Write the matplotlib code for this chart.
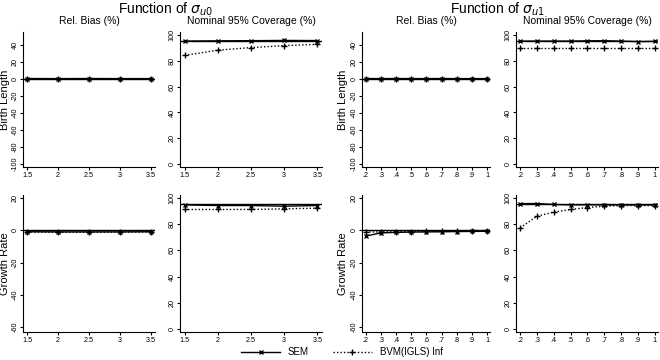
import matplotlib
matplotlib.use("Agg")
import matplotlib.pyplot as plt
from matplotlib.lines import Line2D

plt.rcParams['font.family'] = ['Liberation Sans', 'DejaVu Sans']

# x values for the two groups
sigma_u0 = [1.5, 2, 2.5, 3, 3.5]
sigma_u1 = [0.2, 0.3, 0.4, 0.5, 0.6, 0.7, 0.8, 0.9, 1.0]
u1_labels = ['.2', '.3', '.4', '.5', '.6', '.7', '.8', '.9', '1']

# Birth length, function of sigma_u0
bl_u0_bias_sem = [0.2, 0.1, 0.2, 0.1, 0.1]
bl_u0_bias_bvm = [0.0, -0.1, 0.0, -0.1, 0.0]
bl_u0_cov_sem = [95, 95.2, 95.3, 95.5, 95.4]
bl_u0_cov_bvm = [84, 88, 90, 91.5, 92.5]

# Birth length, function of sigma_u1
bl_u1_bias_sem = [0.2, 0.1, 0.2, 0.1, 0.1, 0.2, 0.1, 0.1, 0.1]
bl_u1_bias_bvm = [0.0, 0.0, -0.1, 0.0, 0.0, -0.1, 0.0, 0.0, 0.0]
bl_u1_cov_sem = [95, 95, 95, 95, 95.2, 95.3, 95, 94.6, 94.8]
bl_u1_cov_bvm = [90, 90, 90, 90, 90, 90, 90, 90, 90]

# Growth rate, function of sigma_u0
gr_u0_bias_sem = [-0.8, -0.9, -0.9, -0.9, -0.8]
gr_u0_bias_bvm = [-1.0, -1.1, -1.1, -1.0, -1.0]
gr_u0_cov_sem = [94.5, 94, 94, 93.5, 94]
gr_u0_cov_bvm = [91, 91, 91, 91.5, 92]

# Growth rate, function of sigma_u1
gr_u1_bias_sem = [-3.5, -1.5, -1.2, -1.0, -0.9, -0.8, -0.7, -0.6, -0.5]
gr_u1_bias_bvm = [-1.0, -0.9, -0.8, -0.7, -0.6, -0.6, -0.5, -0.5, -0.4]
gr_u1_cov_sem = [95.5, 95.5, 94.8, 94.5, 94.6, 94.5, 94.5, 94.5, 94.5]
gr_u1_cov_bvm = [77, 86, 89, 91, 92.5, 93.5, 94, 94, 94]

W, H = 660, 360
fig = plt.figure(figsize=(6.6, 3.6), dpi=100)


def add_ax(x0, x1, y0, y1):
    return fig.add_axes([x0 / W, 1 - y1 / H, (x1 - x0) / W, (y1 - y0) / H])


def panel(ax, x, sem, bvm, ref, ylim, yticks, xlim, xticks, xlabels):
    ax.axhline(ref, color='black', lw=1.0, zorder=1)
    ax.plot(x, sem, color='black', lw=1.0, marker='x', ms=3, mew=1.0, zorder=3)
    ax.plot(x, bvm, color='black', lw=1.0, ls=(0, (1, 1.5)), marker='+',
            ms=4, mew=1.0, zorder=3)
    ax.set_ylim(*ylim)
    ax.set_xlim(*xlim)
    ax.set_yticks(yticks)
    ax.set_yticklabels([str(t) for t in yticks], rotation=90, va='center')
    ax.set_xticks(xticks)
    ax.set_xticklabels(xlabels)
    for s in ['top', 'right']:
        ax.spines[s].set_visible(False)
    for s in ['left', 'bottom']:
        ax.spines[s].set_linewidth(0.8)
    ax.tick_params(labelsize=5.2, length=2.5, width=0.8, pad=0.8)


def row_label(ax, text, x_px, x0, x1):
    # x_px is the right edge of the rotated label
    ax.set_ylabel(text, fontsize=8)
    ax.yaxis.set_label_coords((x_px - x0) / (x1 - x0), 0.5)


u0_xlim = (1.43, 3.57)
u0_labels = ['1.5', '2', '2.5', '3', '3.5']
u1_xlim = (0.175, 1.02)

top = (32, 167)
bot = (195, 332)
cols = [(23, 155), (180, 322), (362, 490), (516, 658)]

bias_top = ((-104, 55), [40, 20, 0, -20, -40, -60, -80, -100])
bias_bot = ((-63, 22), [20, 0, -20, -40, -60])
cov = ((-2, 102), [0, 20, 40, 60, 80, 100])

# top row: birth length
ax = add_ax(*cols[0], *top)
panel(ax, sigma_u0, bl_u0_bias_sem, bl_u0_bias_bvm, 0, *bias_top, u0_xlim, sigma_u0, u0_labels)
ax.set_title('Rel. Bias (%)', fontsize=7.5, pad=6)
row_label(ax, 'Birth Length', 10.5, *cols[0])
ax = add_ax(*cols[1], *top)
panel(ax, sigma_u0, bl_u0_cov_sem, bl_u0_cov_bvm, 95, *cov, u0_xlim, sigma_u0, u0_labels)
ax.set_title('Nominal 95% Coverage (%)', fontsize=7.5, pad=6)
ax = add_ax(*cols[2], *top)
panel(ax, sigma_u1, bl_u1_bias_sem, bl_u1_bias_bvm, 0, *bias_top, u1_xlim, sigma_u1, u1_labels)
ax.set_title('Rel. Bias (%)', fontsize=7.5, pad=6)
row_label(ax, 'Birth Length', 348, *cols[2])
ax = add_ax(*cols[3], *top)
panel(ax, sigma_u1, bl_u1_cov_sem, bl_u1_cov_bvm, 95, *cov, u1_xlim, sigma_u1, u1_labels)
ax.set_title('Nominal 95% Coverage (%)', fontsize=7.5, pad=6)

# bottom row: growth rate
ax = add_ax(*cols[0], *bot)
panel(ax, sigma_u0, gr_u0_bias_sem, gr_u0_bias_bvm, 0, *bias_bot, u0_xlim, sigma_u0, u0_labels)
row_label(ax, 'Growth Rate', 10.5, *cols[0])
ax = add_ax(*cols[1], *bot)
panel(ax, sigma_u0, gr_u0_cov_sem, gr_u0_cov_bvm, 95, *cov, u0_xlim, sigma_u0, u0_labels)
ax = add_ax(*cols[2], *bot)
panel(ax, sigma_u1, gr_u1_bias_sem, gr_u1_bias_bvm, 0, *bias_bot, u1_xlim, sigma_u1, u1_labels)
row_label(ax, 'Growth Rate', 348, *cols[2])
ax = add_ax(*cols[3], *bot)
panel(ax, sigma_u1, gr_u1_cov_sem, gr_u1_cov_bvm, 95, *cov, u1_xlim, sigma_u1, u1_labels)

# group titles
fig.text(165 / W, 1 - 9 / H, r'Function of $\sigma_{u0}$', ha='center', va='center', fontsize=10)
fig.text(497 / W, 1 - 9 / H, r'Function of $\sigma_{u1}$', ha='center', va='center', fontsize=10)

handles = [
    Line2D([], [], color='black', lw=1.0, marker='x', ms=3, mew=1.0),
    Line2D([], [], color='black', lw=1.0, ls=(0, (1, 1.5)), marker='+', ms=4, mew=1.0),
]
fig.legend(handles, ['SEM', 'BVM(IGLS) Inf'], loc='center', bbox_to_anchor=(0.518, 1 - 352 / H),
           ncol=2, frameon=False, fontsize=7, handlelength=4, columnspacing=2.5,
           handletextpad=0.8)

fig.savefig('out.png', dpi=100)
